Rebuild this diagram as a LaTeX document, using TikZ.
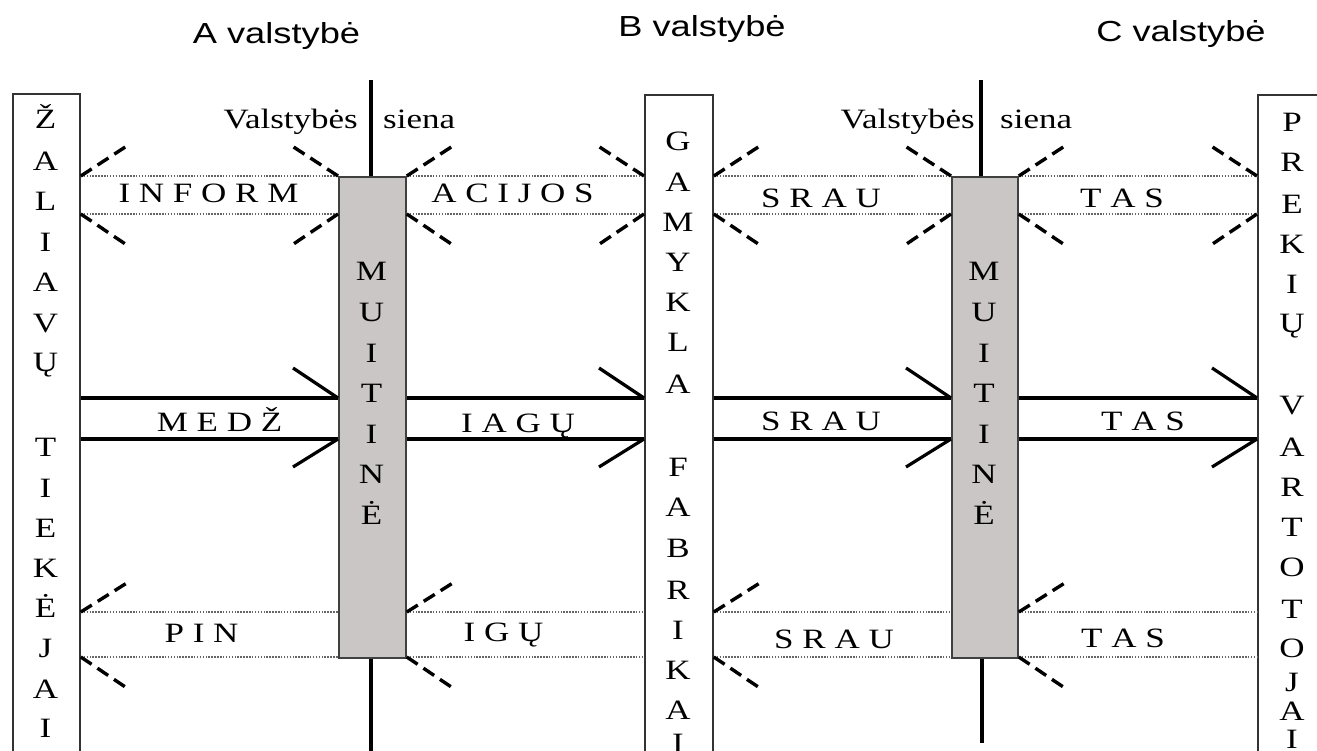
\documentclass[tikz,border=0pt]{standalone}
\usepackage{fontspec}
\setmainfont{Liberation Serif}[FakeStretch=1.25]
\newfontfamily\hsans{Liberation Sans}[FakeStretch=1.25]
\definecolor{muit}{RGB}{201,198,197}
\begin{document}
\begin{tikzpicture}[x=1pt,y=-1pt,
  box/.style={draw=black!80, line width=1.8pt, inner sep=0pt, anchor=north west},
  muitbox/.style={box, fill=muit, draw=black!75},
  lett/.style={font=\fontsize{28}{32}\selectfont, anchor=base, inner sep=0pt},
  head/.style={font=\hsans\fontsize{29}{34}\selectfont, anchor=base, inner sep=0pt},
  dotline/.style={black!60, line width=1.6pt, dash pattern=on 1.5pt off 1.4pt},
  flow/.style={black, line width=3.2pt},
  barb/.style={black, line width=3.2pt},
  dbarb/.style={black, line width=3.4pt, dash pattern=on 13pt off 7pt},
  border/.style={black, line width=3.8pt}]

\useasboundingbox (0,0) rectangle (1317,751);
\fill[white] (0,0) rectangle (1317,751);

% boxes
\node[box, minimum width=67pt, minimum height=690pt] (zal) at (12,93) {};
\node[box, minimum width=68pt, minimum height=690pt] (fab) at (644,94) {};
\node[box, minimum width=80pt, minimum height=690pt] (prk) at (1257,94) {};
\node[muitbox, minimum width=67pt, minimum height=481pt] (mA) at (338,176) {};
\node[muitbox, minimum width=66pt, minimum height=481pt] (mC) at (951,176) {};

% rows
\coordinate (r1) at (0,176);
\coordinate (r2) at (0,214);
\coordinate (r3) at (0,398);
\coordinate (r4) at (0,439);
\coordinate (r5) at (0,612);
\coordinate (r6) at (0,657);

% borders
\coordinate (bAt) at (371,80);
\coordinate (bAb) at (371,752);
\coordinate (bCt) at (981,80);
\coordinate (bCb) at (982,743);
\draw[border] (bAt) -- (bAt |- mA.north);
\draw[border] (bAb |- mA.south) -- (bAb);
\draw[border] (bCt) -- (bCt |- mC.north);
\draw[border] (bCb |- mC.south) -- (bCb);

% dotted lines and flows
\foreach \a/\b in {zal.east/mA.west, mA.east/fab.west, fab.east/mC.west, mC.east/prk.west} {
  \draw[dotline] (\a |- r1) -- (\b |- r1);
  \draw[dotline] (\a |- r2) -- (\b |- r2);
  \draw[dotline] (\a |- r5) -- (\b |- r5);
  \draw[dotline] (\a |- r6) -- (\b |- r6);
  \draw[flow] (\a |- r3) -- (\b |- r3);
  \draw[flow] (\a |- r4) -- (\b |- r4);
  \draw[barb] (\b |- r3) -- ++(-45,-30);
  \draw[barb] (\b |- r4) -- ++(-45,28);
}

% dashed barbs, information row
\foreach \p/\d in {zal.east/1, mA.west/-1, mA.east/1, fab.west/-1, fab.east/1, mC.west/-1, mC.east/1, prk.west/-1} {
  \draw[dbarb] (\p |- r1) -- ++(\d*46,-30);
  \draw[dbarb] (\p |- r2) -- ++(\d*46,31);
}
% dashed barbs, payment row
\foreach \p in {zal.east, mA.east, fab.east, mC.east} {
  \draw[dbarb] (\p |- r5) -- ++(46,-29);
  \draw[dbarb] (\p |- r6) -- ++(46,31);
}

% vertical letters
\foreach \l/\y [count=\i] in {Ž/120, A/162, L/202, I/243, A/283, V/323, Ų/362, T/447, I/488, E/528, K/568, Ė/608, J/648, A/689, I/728}
  \node[lett] (z\i) at (45.5,\y+9) {\l};
\foreach \l/\y [count=\i] in {G/142, A/183, M/223, Y/263, K/303, L/343, A/384, F/467, A/507, B/548, R/590, I/630, K/670, A/710, I/743}
  \node[lett] (g\i) at (678,\y+9) {\l};
\foreach \l/\y [count=\i] in {P/123, R/163, E/205, K/245, I/285, Ų/323, V/405, A/447, R/487, T/527, O/567, T/609, O/648, J/682, A/711, I/739}
  \node[lett] (p\i) at (1292,\y+9) {\l};
\foreach \l/\y [count=\i] in {M/272, U/312, I/353, T/393, I/434, N/474, Ė/515} {
  \node[lett] (ma\i) at (371.5,\y+9) {\l};
  \node[lett] (mc\i) at (984,\y+9) {\l};
}

% horizontal labels
\node[lett] (t1) at (208.5,203) {I N F O R M};
\node[lett] (t2) at (512.5,203) {A C I J O S};
\node[lett] (t3) at (821,208) {S R A U};
\node[lett] (t4) at (1122,208) {T A S};
\node[lett] (t5) at (219.5,431) {M E D Ž};
\node[lett] (t6) at (518,432) {I A G Ų};
\node[lett] (t7) at (821,430) {S R A U};
\node[lett] (t8) at (1143,430) {T A S};
\node[lett] (t9) at (201.5,642) {P I N};
\node[lett] (t10) at (503.5,641) {I G Ų};
\node[lett] (t11) at (834,648) {S R A U};
\node[lett] (t12) at (1123,647) {T A S};

% border captions
\node[lett, anchor=base east] (vsA) at (358,129) {Valstybės};
\node[lett, anchor=base west] (snA) at (383,129) {siena};
\node[lett, anchor=base east] (vsC) at (975,129) {Valstybės};
\node[lett, anchor=base west] (snC) at (1000,129) {siena};

% headings
\node[head] (hA) at (276.5,44) {A valstybė};
\node[head] (hB) at (702,37) {B valstybė};
\node[head] (hC) at (1181,42) {C valstybė};
\end{tikzpicture}
\end{document}
